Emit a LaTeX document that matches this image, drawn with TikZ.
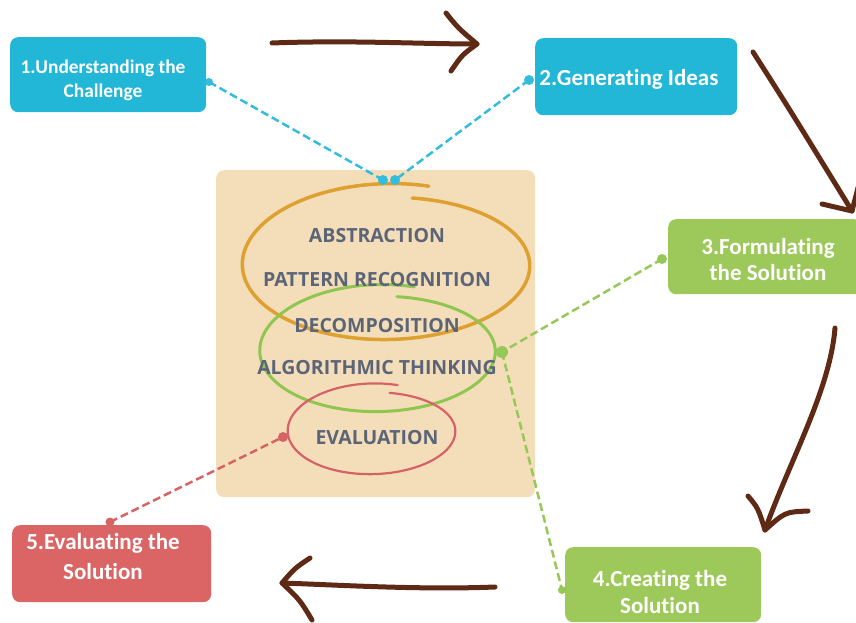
\documentclass[tikz,border=0pt]{standalone}
\usepackage{fontspec}
\setmainfont{Carlito}[Ligatures={NoCommon}]
\newfontfamily\keyfont{Open Sans}
\definecolor{cyanbox}{RGB}{34,182,215}
\definecolor{greenbox}{RGB}{157,200,90}
\definecolor{redbox}{RGB}{219,100,100}
\definecolor{beige}{RGB}{244,222,185}
\definecolor{orangeloop}{RGB}{222,160,48}
\definecolor{greenloop}{RGB}{143,198,80}
\definecolor{redloop}{RGB}{214,98,104}
\definecolor{skilltxt}{RGB}{92,100,120}
\definecolor{arrowbrown}{RGB}{94,42,22}
\definecolor{cyanlink}{RGB}{52,188,220}
\definecolor{greenlink}{RGB}{150,200,88}
\definecolor{redlink}{RGB}{214,100,100}
\begin{document}
\begin{tikzpicture}[x=1pt,y=-1pt,
  box/.style={rounded corners=8pt, inner sep=0pt, anchor=north west},
  boxtext/.style 2 args={text=white, align=center, inner sep=0pt,
    font=\fontsize{#1}{#2}\selectfont\bfseries},
  skill/.style={text=skilltxt, inner sep=0pt,
    font=\keyfont\fontsize{19.5}{22}\selectfont\bfseries},
  link/.style={dash pattern=on 8pt off 4pt, line width=2.5pt},
  dot/.style={circle, inner sep=0pt, minimum size=#1},
  flow/.style={draw=arrowbrown, line width=5pt, line cap=round, line join=round},
]
\useasboundingbox (0,0) rectangle (856,623);

% central panel
\node[box, fill=beige, minimum width=319pt, minimum height=327pt] (panel) at (216,170) {};

% stage boxes
\node[box, fill=cyanbox, minimum width=196pt, minimum height=75pt] (b1) at (10,37) {};
\node[box, fill=cyanbox, minimum width=202pt, minimum height=77pt] (b2) at (535,38) {};
\node[box, fill=greenbox, minimum width=194pt, minimum height=75pt] (b3) at (668,219) {};
\node[box, fill=greenbox, minimum width=196pt, minimum height=75pt] (b4) at (565,547) {};
\node[box, fill=redbox, minimum width=199pt, minimum height=77pt] (b5) at (12,525) {};

\node[boxtext={19.4}{24pt}] (t1) at (103,80) {1.Understanding the\\Challenge};
\node[boxtext={23}{24pt}] (t2) at (629,79) {2.Generating Ideas};
\node[boxtext={23}{26pt}] (t3) at (768,260) {3.Formulating\\the Solution};
\node[boxtext={23}{27pt}] (t4) at (660,592) {4.Creating the\\Solution};
\node[boxtext={23}{30pt}] (t5) at (103,557) {5.Evaluating the\\Solution};

% hand-drawn loops
\draw[orangeloop, line width=3.5pt, line cap=round]
  plot[domain=74:440, samples=140, smooth]
  ({388 + (148 - 8*(\x-74)/366)*cos(\x)}, {265 - (82 - 14*(\x-74)/366)*sin(\x)});
\draw[greenloop, line width=3pt, line cap=round]
  plot[domain=73:441, samples=140, smooth]
  ({379 + (121 - 6*(\x-73)/368)*cos(\x)}, {351 - (67 - 12*(\x-73)/368)*sin(\x)});
\draw[redloop, line width=2.2pt, line cap=round]
  plot[domain=73:438, samples=140, smooth]
  ({372.5 + (86 - 4*(\x-73)/365)*cos(\x)}, {431 - (48 - 9*(\x-73)/365)*sin(\x)});

% thinking skills
\node[skill] (s1) at (377,236) {ABSTRACTION};
\node[skill] (s2) at (377,280) {PATTERN RECOGNITION};
\node[skill] (s3) at (377,326) {DECOMPOSITION};
\node[skill] (s4) at (377,368) {ALGORITHMIC THINKING};
\node[skill] (s5) at (377,438) {EVALUATION};

% link end points
\node[dot=8pt, fill=cyanlink] (e1) at (209,82) {};
\node[dot=10pt, fill=cyanlink] (e2) at (529,80) {};
\node[dot=10pt, fill=greenlink] (e3) at (662,259) {};
\node[dot=8pt, fill=greenlink] (e4) at (562,590) {};
\node[dot=9pt, fill=redlink] (e5) at (110,522) {};
\node[dot=10pt, fill=cyanlink] (c1) at (383,180) {};
\node[dot=10pt, fill=cyanlink] (c2) at (395,180) {};
\node[dot=12pt, fill=greenlink] (g1) at (502,352) {};
\node[dot=10pt, fill=redlink] (r1) at (283,437) {};

% dashed links
\draw[link, draw=cyanlink] (e1.center) -- (c1.center);
\draw[link, draw=cyanlink] (e2.center) -- (c2.center);
\draw[link, draw=greenlink] (e3.center) -- (g1.center);
\draw[link, draw=greenlink] (g1.center) -- (e4.center);
\draw[link, draw=redlink] (e5.center) -- (r1.center);

% flow arrows
\coordinate (a1s) at (272,43);
\coordinate (a1t) at (477,44);
\draw[flow] (a1s) .. controls (350,40) and (420,44) .. (a1t);
\draw[flow] (446,13) .. controls (458,28) .. (a1t) .. controls (462,55) .. (451,71);

\coordinate (a2s) at (753,52);
\coordinate (a2t) at (852,211);
\draw[flow] (a2s) .. controls (790,110) .. (a2t);
\draw[flow] (822,204) -- (a2t) -- (860,180);

\coordinate (a3s) at (835,328);
\coordinate (a3t) at (765,530);
\draw[flow] (a3s) .. controls (830,390) and (790,460) .. (a3t);
\draw[flow] (748,496) .. controls (758,508) .. (a3t) .. controls (785,512) .. (808,511);

\coordinate (a4s) at (495,587);
\coordinate (a4t) at (282,583);
\draw[flow] (a4s) .. controls (420,590) and (340,585) .. (a4t);
\draw[flow] (310,558) .. controls (295,568) .. (a4t) .. controls (300,600) .. (312,620);
\end{tikzpicture}
\end{document}
